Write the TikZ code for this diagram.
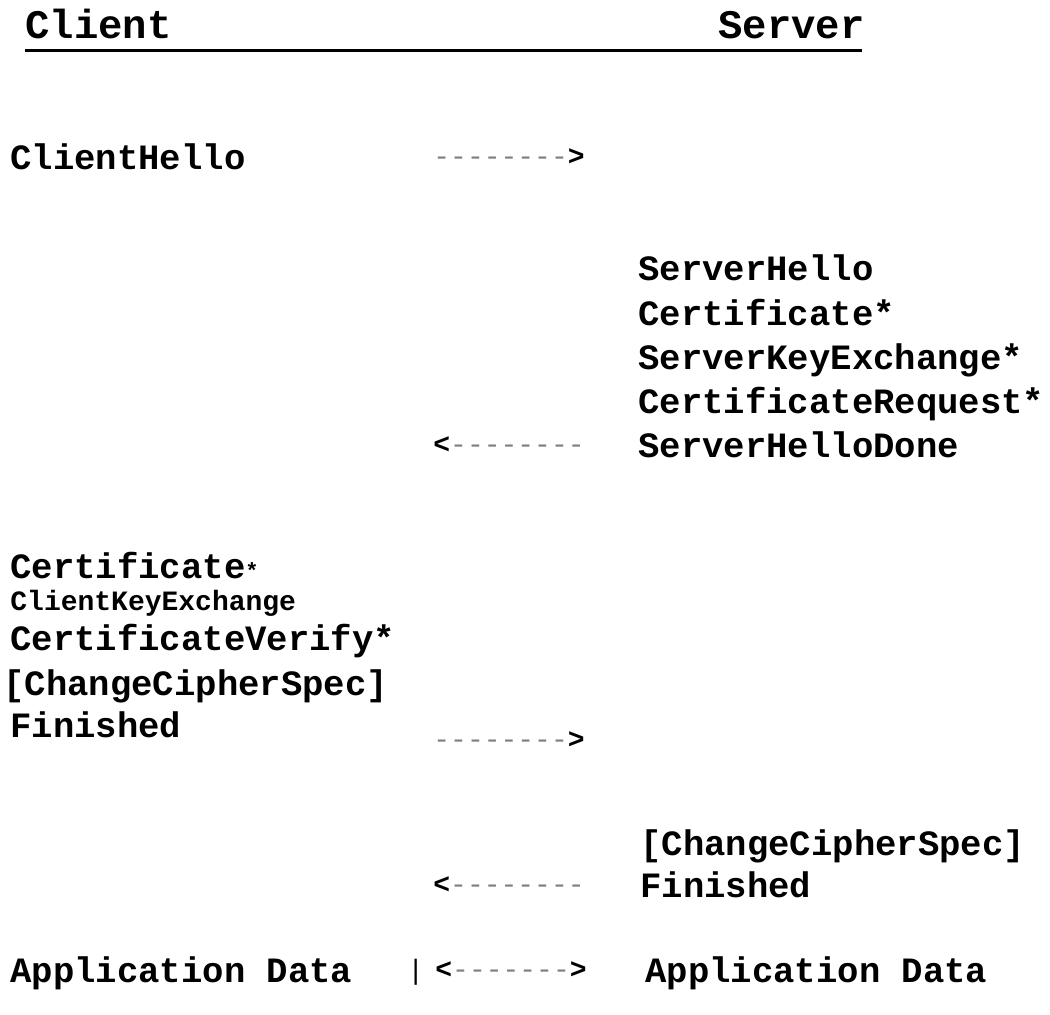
\documentclass[tikz,border=0pt]{standalone}
\usepackage{fontspec}
\setmonofont{Liberation Mono}
\begin{document}
\begin{tikzpicture}[x={(0.5pt,0)},y={(0,-0.5pt)},
	every node/.style={inner sep=0pt,anchor=base west,font=\ttfamily\bfseries\fontsize{17.8}{20}\selectfont},
	hdr/.style={font=\ttfamily\bfseries\fontsize{20.3}{22}\selectfont},
	small/.style={font=\ttfamily\bfseries\fontsize{14}{16}\selectfont},
	arr/.style={font=\ttfamily\fontsize{14}{16}\selectfont}]
	\useasboundingbox (0,0) rectangle (1050,1014);
	% heading
	\node[hdr] (client) at (25,38) {Client};
	\node[hdr] (server) at (718,38) {Server};
	\draw[line width=1.5pt] (25,50) -- (862,50);

	\node (chello) at (10,169) {ClientHello};
	\node[arr] (arr1) at (433,165) {\textcolor{gray}{--------}\textbf{>}};

	\node (shello) at (638,280) {ServerHello};
	\node (scert)  at (638,325) {Certificate*};
	\node (ske)    at (638,369) {ServerKeyExchange*};
	\node (creq)   at (638,413) {CertificateRequest*};
	\node (shdone) at (638,457) {ServerHelloDone};
	\node[arr] (arr2) at (433,453) {\textbf{<}\textcolor{gray}{--------}};

	\node (ccert)   at (10,578) {Certificate{\fontsize{11}{12}\selectfont*}};
	\node[small] (cke) at (10,610) {ClientKeyExchange};
	\node (cverify) at (10,650) {CertificateVerify*};
	\node (cccs)    at (3,695) {[ChangeCipherSpec]};
	\node (cfin)    at (10,737) {Finished};
	\node[arr] (arr3) at (433,748) {\textcolor{gray}{--------}\textbf{>}};

	\node (sccs) at (640,855) {[ChangeCipherSpec]};
	\node (sfin) at (640,897) {Finished};
	\node[arr] (arr4) at (433,893) {\textbf{<}\textcolor{gray}{--------}};

	\node (capp) at (10,982) {Application Data};
	\node[arr] (bar)  at (407,979) {|};
	\node[arr] (arr5) at (435,978) {\textbf{<}\textcolor{gray}{-------}\textbf{>}};
	\node (sapp) at (645,982) {Application Data};
\end{tikzpicture}
\end{document}
